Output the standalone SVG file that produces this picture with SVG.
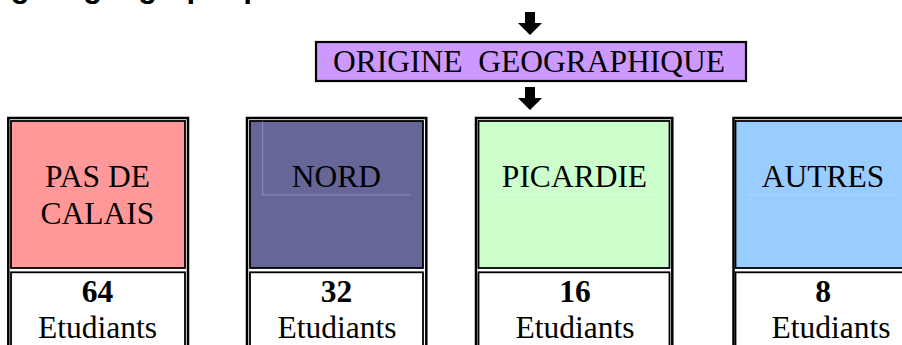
<svg xmlns="http://www.w3.org/2000/svg" width="902" height="345" viewBox="0 0 902 345">
<style>
.t{font-family:"Liberation Serif","Times New Roman",serif;font-size:31.5px;fill:#000;text-anchor:middle}
.b{font-weight:bold}
.outer{fill:none;stroke:#000;stroke-width:2.5}
.cell{stroke:#000;stroke-width:1.8}
.arrow{fill:#000}
</style>
<rect width="902" height="345" fill="#fff"/>
<text x="-34" y="-3.5" font-family="Liberation Sans, Arial, sans-serif" font-weight="bold" font-size="31" fill="#000">Origine géographique</text>
<g id="connectors">
<polygon class="arrow" points="525,12 535,12 535,23 542,23 530,35 518,23 525,23"/>
<polygon class="arrow" points="525,87 535,87 535,98 542,98 530,110 518,98 525,98"/>
</g>
<g id="origine">
<rect x="316" y="42" width="430" height="39" fill="#CC99FF" stroke="#000" stroke-width="2.2"/>
<text class="t" x="529" y="71.5" xml:space="preserve">ORIGINE  GEOGRAPHIQUE</text>
</g>
<g id="pas-de-calais">
<rect class="outer" x="8.3" y="118" width="179.7" height="240"/>
<rect class="cell" x="11" y="121" width="174" height="147" fill="#FF9999"/>
<rect class="cell" x="11" y="272.3" width="174" height="90" fill="#fff"/>
<text class="t" x="97.5" y="187">PAS DE</text>
<text class="t" x="97.5" y="223.5">CALAIS</text>
<text class="t b" x="97.5" y="302">64</text>
<text class="t" x="97.5" y="337.5">Etudiants</text>
</g>
<g id="nord">
<rect class="outer" x="247" y="118" width="179.3" height="240"/>
<rect class="cell" x="250" y="121" width="173" height="147" fill="#666699"/>
<rect class="cell" x="250" y="272.3" width="173" height="90" fill="#fff"/>
<polyline points="262.7,121.5 262.7,195 410.7,195" fill="none" stroke="#9a9acb" stroke-width="0.8"/>
<text class="t" x="336.3" y="187">NORD</text>
<text class="t b" x="336.5" y="302">32</text>
<text class="t" x="337" y="337.5">Etudiants</text>
</g>
<g id="picardie">
<rect class="outer" x="476" y="118" width="196.3" height="240"/>
<rect class="cell" x="478.5" y="121" width="191" height="147" fill="#CCFFCC"/>
<rect class="cell" x="478.5" y="272.3" width="191" height="90" fill="#fff"/>
<line x1="492" y1="195" x2="656.7" y2="195" stroke="#e6ffe6" stroke-width="0.8"/>
<text class="t" x="574.5" y="187">PICARDIE</text>
<text class="t b" x="575" y="302">16</text>
<text class="t" x="575" y="337.5">Etudiants</text>
</g>
<g id="autres">
<rect class="outer" x="733.5" y="118" width="200" height="240"/>
<rect class="cell" x="735.5" y="121" width="200" height="147" fill="#99CCFF"/>
<rect class="cell" x="735.5" y="272.3" width="200" height="90" fill="#fff"/>
<line x1="748" y1="195" x2="898" y2="195" stroke="#bcdcff" stroke-width="0.8"/>
<text class="t" x="823" y="187">AUTRES</text>
<text class="t b" x="823" y="302">8</text>
<text class="t" x="831" y="337.5">Etudiants</text>
</g>
</svg>
